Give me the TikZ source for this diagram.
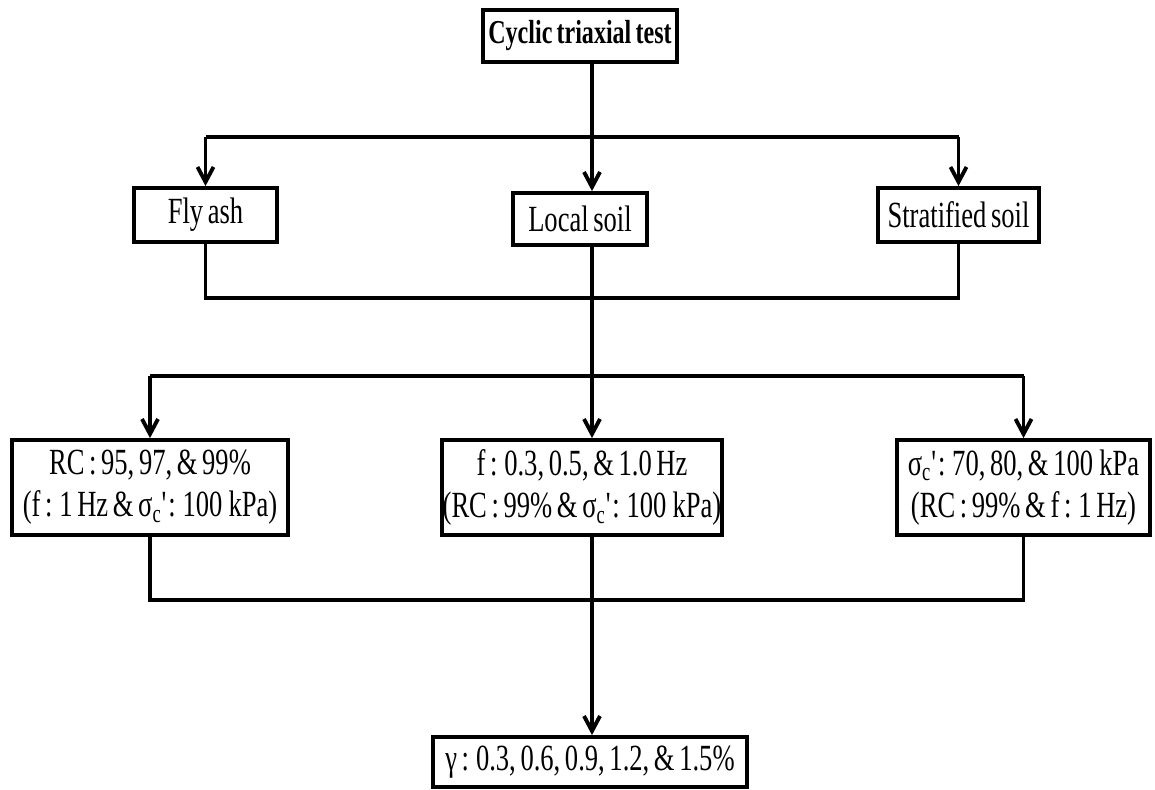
\documentclass[tikz,border=0pt]{standalone}
\usepackage{fontspec}
\setmainfont{Liberation Serif}[FakeStretch=0.72,WordSpace=0.7]
\usetikzlibrary{arrows.meta,positioning}

\newcommand{\sigc}{σ\textsubscript{c}\textquotesingle}

\begin{document}
\begin{tikzpicture}[
  x=0.02cm, y=-0.02cm,
  box/.style={draw, line width=2.2pt, inner sep=0pt, align=center, font=\fontsize{21}{24}\selectfont},
  arr/.style={-{Straight Barb[length=3mm,width=3.2mm]}, line width=2.2pt},
  conn/.style={line width=2.2pt}
]
\useasboundingbox (0,0) rectangle (1155,789);

% test types
\node[box, minimum width=3.88cm, minimum height=1.04cm, font=\fontsize{19}{22}\selectfont\bfseries] (test) at (580,36) {Cyclic triaxial test};
\node[box, minimum width=2.86cm, minimum height=1.08cm] (fly) at (205.5,215) {Fly ash};
\node[box, minimum width=2.68cm, minimum height=1.04cm] (local) at (580,219) {Local soil};
\node[box, minimum width=3.22cm, minimum height=1.08cm] (strat) at (958.5,215) {Stratified soil};

% parameters
\node[box, minimum width=5.52cm, minimum height=1.9cm] (rc) at (150,487.5) {RC : 95, 97, \& 99\%\\(f : 1 Hz \& \sigc: 100\,kPa)};
\node[box, minimum width=5.6cm, minimum height=1.9cm] (freq) at (582,487.5) {f : 0.3, 0.5, \& 1.0 Hz\\(RC : 99\% \& \sigc: 100\,kPa)};
\node[box, minimum width=5.06cm, minimum height=1.9cm] (sig) at (1023.5,487.5) {\sigc: 70, 80, \& 100\,kPa\\(RC : 99\% \& f : 1 Hz)};

\node[box, minimum width=6.28cm, minimum height=1.0cm] (gamma) at (590,762) {γ : 0.3, 0.6, 0.9, 1.2, \& 1.5\%};

\coordinate (j1) at (592,137);
\coordinate (j2) at (592,298);
\coordinate (j3) at (592,376);
\coordinate (j4) at (592,600);

% first split
\draw[arr] (test.south -| j1) -- (local.north -| j1);
\draw[conn] (fly.north |- j1) -- (strat.north |- j1);
\draw[arr] (fly.north |- j1) -- (fly.north);
\draw[arr] (strat.north |- j1) -- (strat.north);
\draw[conn] (fly.south) -- (fly.south |- j2) -- (strat.south |- j2) -- (strat.south);

% second split
\draw[conn] (local.south -| j2) -- (j3);
\draw[conn] (rc.north |- j3) -- (sig.north |- j3);
\draw[arr] (rc.north |- j3) -- (rc.north);
\draw[arr] (j3) -- (freq.north -| j3);
\draw[arr] (sig.north |- j3) -- (sig.north);
\draw[conn] (rc.south) -- (rc.south |- j4) -- (sig.south |- j4) -- (sig.south);
\draw[conn] (freq.south -| j4) -- (j4);
\draw[arr] (j4) -- (gamma.north -| j4);
\end{tikzpicture}
\end{document}
